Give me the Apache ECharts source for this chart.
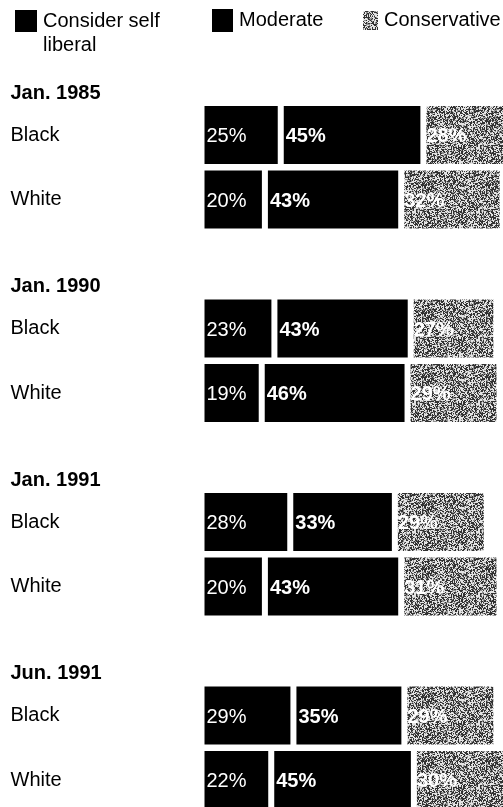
<!DOCTYPE html>
<html>
<head>
<meta charset="utf-8">
<script src="https://cdn.jsdelivr.net/npm/echarts@6/dist/echarts.min.js"></script>
<style>
html,body{margin:0;padding:0;background:#fff;}
#chart{width:503px;height:807px;}
</style>
</head>
<body>
<div id="chart"></div>
<script>
// ---- data ----
var groups = ['Jan. 1985', 'Jan. 1990', 'Jan. 1991', 'Jun. 1991'];
var races = ['Black', 'White'];
var seriesNames = ['Consider self liberal', 'Moderate', 'Conservative'];
// order: per group Black, White
var liberal      = [25, 20, 23, 19, 28, 20, 29, 22];
var moderate     = [45, 43, 43, 46, 33, 43, 35, 45];
var conservative = [28, 32, 27, 29, 29, 31, 29, 30];

// ---- build categories (group header row + race rows) ----
var cats = [];
var rowIndex = [];
groups.forEach(function (g, gi) {
  cats.push('G|' + g); rowIndex.push(-1);
  races.forEach(function (r, ri) {
    cats.push(g + '|' + r); rowIndex.push(gi * races.length + ri);
  });
});
function col(arr) {
  return rowIndex.map(function (i) { return i < 0 ? '-' : arr[i]; });
}

// ---- texture for conservative (deterministic stipple via integer hash) ----
function hash(x, y) {
  var h = (x * 374761393 + y * 668265263) | 0;
  h = (h ^ (h >>> 13)) * 1274126177 | 0;
  h = h ^ (h >>> 16);
  return (h >>> 0) % 100;
}
function makePattern() {
  var n = 64;
  var c = document.createElement('canvas');
  c.width = n; c.height = n;
  var ctx = c.getContext('2d');
  var img = ctx.createImageData(n, n);
  for (var y = 0; y < n; y++) {
    for (var x = 0; x < n; x++) {
      var h = hash(x, y);
      var v = h < 40 ? 50 : (h < 60 ? 145 : 228);
      var k = (y * n + x) * 4;
      img.data[k] = v; img.data[k + 1] = v; img.data[k + 2] = v; img.data[k + 3] = 255;
    }
  }
  ctx.putImageData(img, 0, 0);
  return { image: c, repeat: 'repeat' };
}
var grayPattern = makePattern();

var FONT = '"Liberation Sans", Arial, Helvetica, sans-serif';
var chart = echarts.init(document.getElementById('chart'), null, { renderer: 'canvas' });

function labelCfg(bold, dist) {
  return {
    show: true,
    position: 'insideLeft',
    distance: dist,
    offset: [0, 1.5],
    color: '#fff',
    fontSize: 20,
    fontFamily: FONT,
    fontWeight: bold ? 'bold' : 'normal',
    formatter: '{c}%'
  };
}

var option = {
  animation: false,
  backgroundColor: '#fff',
  legend: [
    {
      data: [seriesNames[0]],
      left: 13, top: -15,
      padding: 0,
      itemWidth: 24, itemHeight: 24,
      icon: 'rect',
      formatter: function () { return ' \nConsider self\nliberal'; },
      textStyle: { fontSize: 20, lineHeight: 24, color: '#000', fontFamily: FONT }
    },
    {
      data: [seriesNames[1]],
      left: 210, top: 7,
      padding: 0,
      itemWidth: 23, itemHeight: 25,
      icon: 'rect',
      textStyle: { fontSize: 20, color: '#000', fontFamily: FONT }
    },
    {
      data: [seriesNames[2]],
      left: 361, top: 9,
      padding: 0,
      itemWidth: 17, itemHeight: 21,
      icon: 'rect',
      textStyle: { fontSize: 20, color: '#000', fontFamily: FONT }
    }
  ],
  grid: { left: 201.5, top: 38.25, width: 317, height: 774, containLabel: false, outerBoundsMode: 'none' },
  xAxis: { type: 'value', min: 0, max: 100, show: false },
  yAxis: {
    type: 'category',
    inverse: true,
    data: cats,
    axisLine: { show: false },
    axisTick: { show: false },
    splitLine: { show: false },
    axisLabel: {
      interval: 0,
      align: 'left',
      margin: 191,
      color: '#000',
      fontSize: 20,
      fontFamily: FONT,
      formatter: function (v) {
        var p = v.split('|');
        if (p[0] === 'G') return '{g|' + p[1] + '}';
        return p[1];
      },
      rich: {
        g: { fontWeight: 'bold', fontSize: 20, fontFamily: FONT, color: '#000', lineHeight: 22, padding: [45, 0, 0, 0] }
      }
    }
  },
  series: [
    {
      name: seriesNames[0], type: 'bar', stack: 'all', barWidth: 64,
      itemStyle: { color: '#000', borderColor: '#fff', borderWidth: 3 },
      label: labelCfg(false, 5),
      data: col(liberal)
    },
    {
      name: seriesNames[1], type: 'bar', stack: 'all', barWidth: 64,
      itemStyle: { color: '#000', borderColor: '#fff', borderWidth: 3 },
      label: labelCfg(true, 5),
      data: col(moderate)
    },
    {
      name: seriesNames[2], type: 'bar', stack: 'all', barWidth: 64,
      itemStyle: { color: grayPattern, borderColor: '#fff', borderWidth: 3 },
      label: labelCfg(true, 3),
      data: col(conservative)
    }
  ]
};
chart.setOption(option);
</script>
</body>
</html>
